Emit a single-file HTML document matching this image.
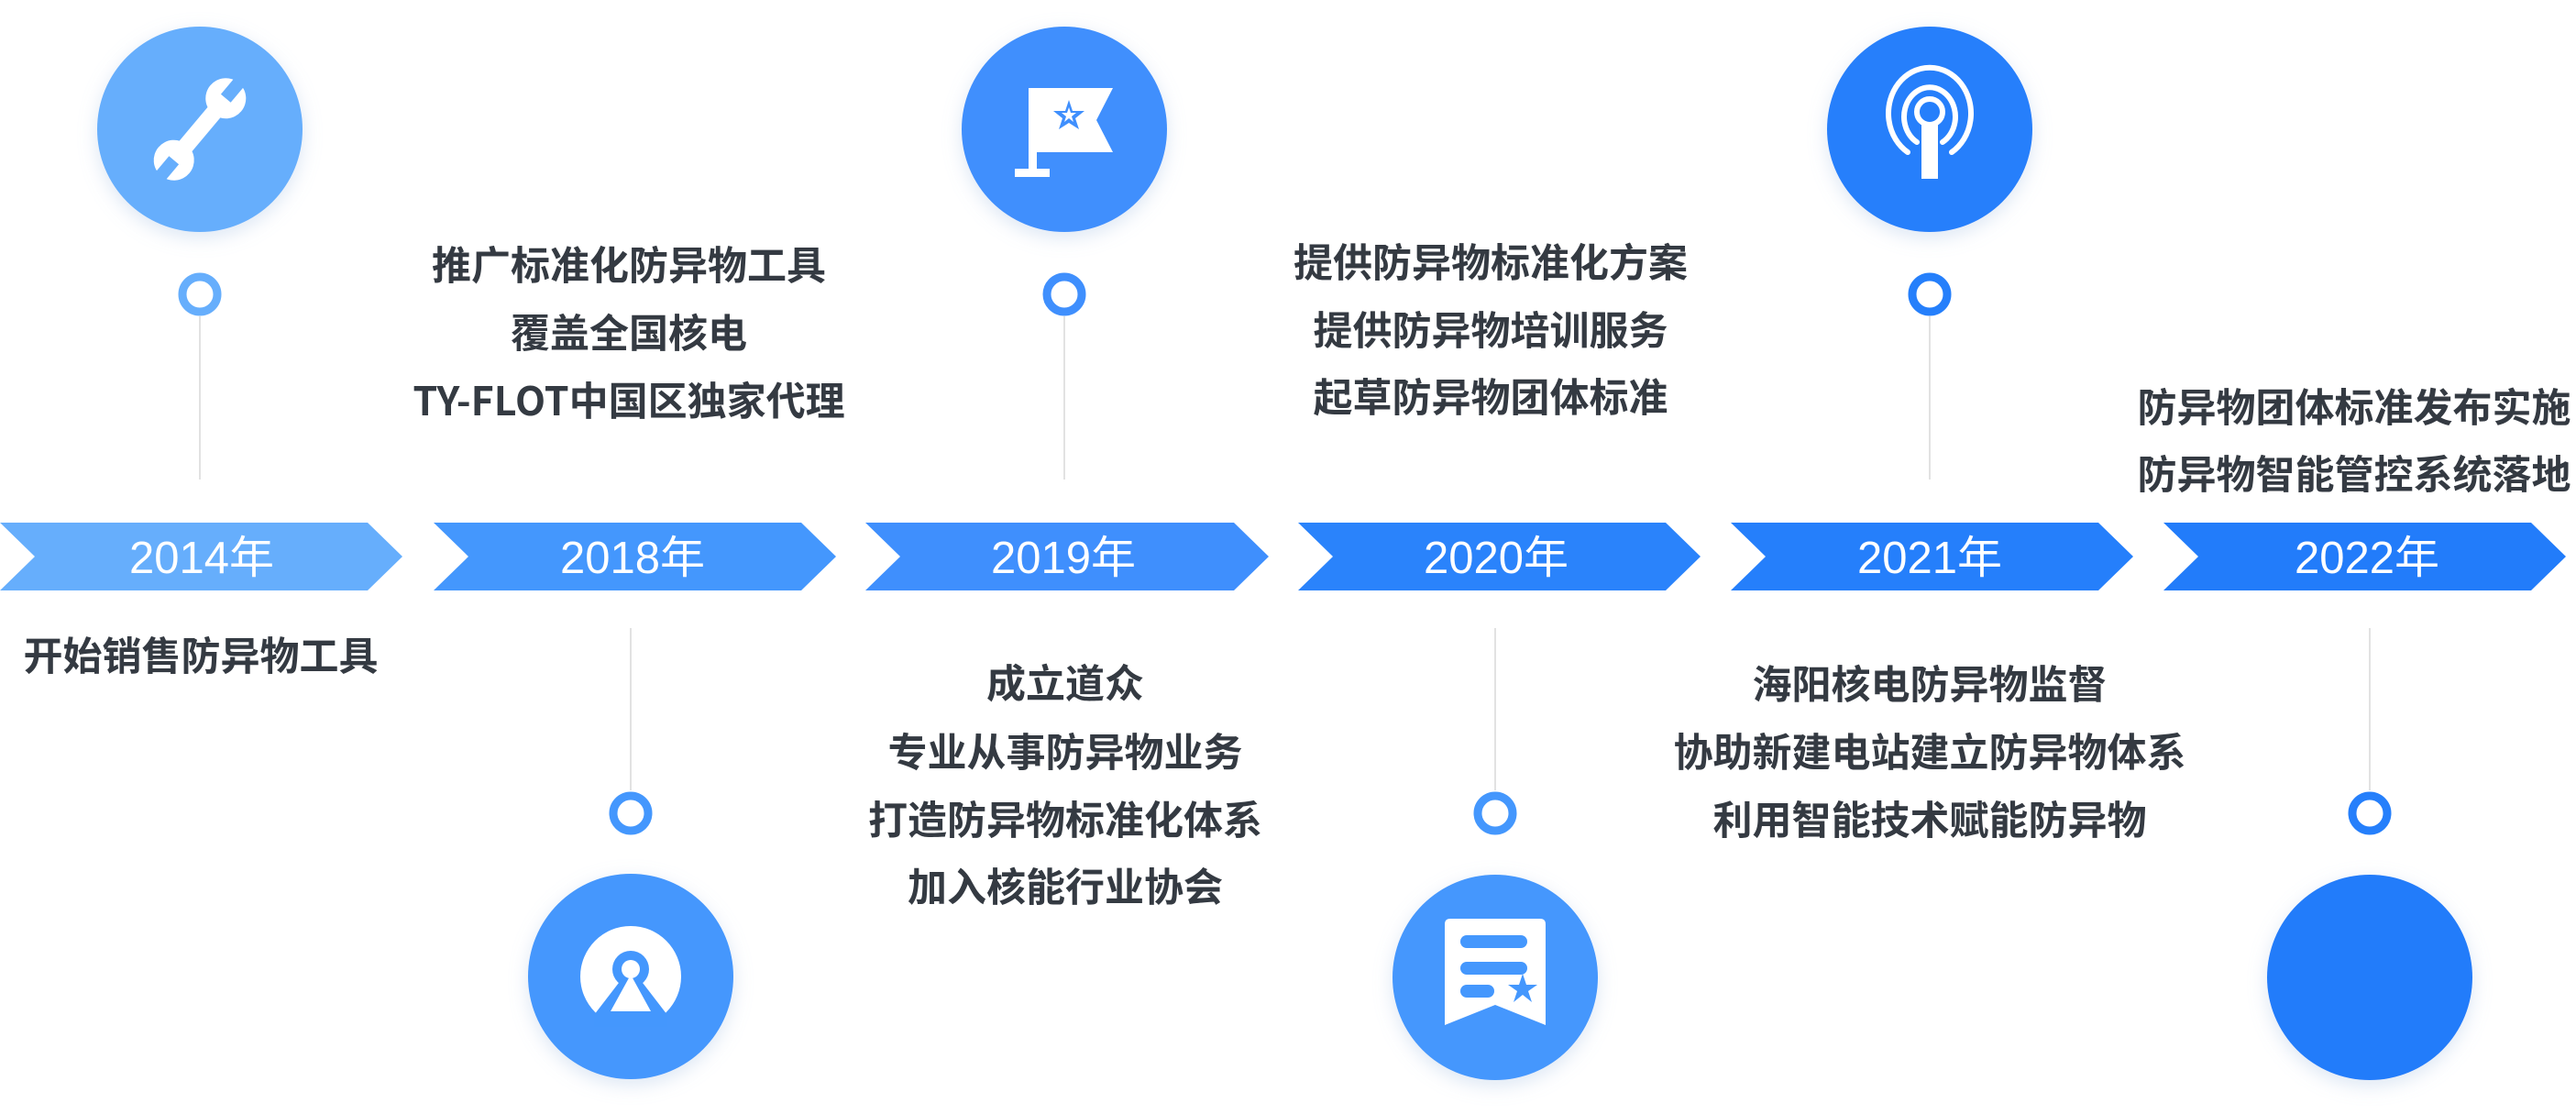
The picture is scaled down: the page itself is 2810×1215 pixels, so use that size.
<!DOCTYPE html>
<html><head><meta charset="utf-8"><style>
html,body{margin:0;padding:0;background:#fff;}
svg text{font-family:"Liberation Sans","Noto Sans CJK SC",sans-serif;}
.t{font-family:"Noto Sans CJK SC","Liberation Sans",sans-serif !important;font-size:43px;font-weight:700;fill:#343a42;text-anchor:middle;dominant-baseline:central;}
.y{font-family:"Liberation Sans","Noto Sans CJK SC",sans-serif;font-size:49px;fill:#fff;text-anchor:middle;dominant-baseline:central;}
</style></head><body>
<svg width="2810" height="1210" viewBox="0 0 2810 1210" xmlns="http://www.w3.org/2000/svg">
<defs>
<filter id="sh" x="-30%" y="-30%" width="160%" height="160%"><feDropShadow dx="0" dy="6" stdDeviation="10" flood-color="#9ab8e0" flood-opacity="0.35"/></filter>
</defs>
<polygon points="0,570 401,570 439,607 401,644 0,644 38,607" fill="#66aefc"/>
<polygon points="473,570 874,570 912,607 874,644 473,644 511,607" fill="#4497fd"/>
<polygon points="944,570 1346,570 1384,607 1346,644 944,644 982,607" fill="#3f8ffd"/>
<polygon points="1416,570 1817,570 1855,607 1817,644 1416,644 1454,607" fill="#2a83fb"/>
<polygon points="1888,570 2289,570 2327,607 2289,644 1888,644 1926,607" fill="#257ffb"/>
<polygon points="2360,570 2761,570 2799,607 2761,644 2360,644 2398,607" fill="#227cfa"/>
<text class="y" x="220" y="609">2014年</text>
<text class="y" x="690" y="609">2018年</text>
<text class="y" x="1160" y="609">2019年</text>
<text class="y" x="1632" y="609">2020年</text>
<text class="y" x="2105" y="609">2021年</text>
<text class="y" x="2582" y="609">2022年</text>
<g stroke="#e2e2e2" stroke-width="2">
<line x1="218" y1="345" x2="218" y2="523"/>
<line x1="1161" y1="345" x2="1161" y2="523"/>
<line x1="2105" y1="345" x2="2105" y2="523"/>
<line x1="688" y1="685" x2="688" y2="862"/>
<line x1="1631" y1="685" x2="1631" y2="862"/>
<line x1="2585" y1="685" x2="2585" y2="862"/>
</g>
<g fill="#fff" stroke-width="9">
<circle cx="218" cy="321" r="19" stroke="#66aefc"/>
<circle cx="1161" cy="321" r="19" stroke="#3f8ffd"/>
<circle cx="2105" cy="321" r="19" stroke="#257ffb"/>
<circle cx="688" cy="887" r="19" stroke="#4497fd"/>
<circle cx="1631" cy="887" r="19" stroke="#4497fd"/>
<circle cx="2585" cy="887" r="19" stroke="#257ffb"/>
</g>
<g filter="url(#sh)">
<circle cx="218" cy="141" r="112" fill="#66aefc"/>
<circle cx="1161" cy="141" r="112" fill="#3f8ffd"/>
<circle cx="2105" cy="141" r="112" fill="#257ffb"/>
<circle cx="688" cy="1065" r="112" fill="#4497fd"/>
<circle cx="1631" cy="1066" r="112" fill="#4497fd"/>
<circle cx="2585" cy="1066" r="112" fill="#227cfa"/>
</g>
<!-- wrench -->
<g transform="translate(218,141) rotate(40)">
<rect x="-9" y="-40" width="18" height="80" fill="#fff"/>
<circle cx="0" cy="-44" r="22" fill="#fff"/>
<circle cx="0" cy="44" r="22" fill="#fff"/>
<rect x="-7" y="-70" width="14" height="26" fill="#66aefc"/>
<rect x="-7" y="44" width="14" height="26" fill="#66aefc"/>
</g>
<!-- 2018 icon -->
<g transform="translate(688,1065)">
<circle r="55" fill="#fff"/>
<path d="M-40,42 L40,42 L0,-10 Z" fill="#4497fd"/>
<circle cy="-8" r="20" fill="#4497fd"/>
<circle cy="-8" r="10" fill="#fff"/>
<path d="M-22,38 L0,-2 L22,38 Z" fill="#fff"/>
<path d="M-40,55 L40,55 L40,42 L-40,42Z" fill="#4497fd"/>
</g>
<!-- flag -->
<g transform="translate(1161,141)" fill="#fff">
<path d="M-39,-45 L53,-45 L35,-10 L53,25 L-39,25 Z"/>
<rect x="-39" y="-45" width="9" height="95"/>
<rect x="-54" y="43" width="38" height="9"/>
<polygon points="5,-32 9,-20 22,-20 12,-12 16,0 5,-7 -6,0 -2,-12 -12,-20 1,-20" fill="#3f8ffd"/>
<polygon points="5,-24 7,-18 13,-18 8,-14 10,-8 5,-12 0,-8 2,-14 -3,-18 3,-18" fill="#fff"/>
</g>
<!-- 2020 doc -->
<g transform="translate(1631,1066)">
<path d="M-55,-58 Q-55,-64 -49,-64 L49,-64 Q55,-64 55,-58 L55,52 L0,30 L-55,52 Z" fill="#fff"/>
<rect x="-38" y="-46" width="73" height="14" rx="7" fill="#4497fd"/>
<rect x="-38" y="-17" width="73" height="14" rx="7" fill="#4497fd"/>
<rect x="-38" y="8" width="37" height="14" rx="7" fill="#4497fd"/>
<polygon points="30,-4 34,8 46,8 36,15 40,27 30,19 20,27 24,15 14,8 26,8" fill="#4497fd"/>
</g>
<!-- 2021 antenna -->
<g transform="translate(2105,141)" fill="none" stroke="#fff" stroke-width="6" stroke-linecap="round">
<path d="M-24,25 A45,50 0 1 1 24,25"/>
<path d="M-14,14 A28,32 0 1 1 14,14"/>
<rect x="-9" y="-8" width="18" height="62" fill="#fff" stroke="none"/>
<circle cy="-19" r="14" fill="#257ffb" stroke="#fff" stroke-width="6"/>
</g>
<text class="t" x="686" y="287">推广标准化防异物工具</text>
<text class="t" x="686" y="361">覆盖全国核电</text>
<text class="t" x="686" y="435">TY-FLOT中国区独家代理</text>
<text class="t" x="219" y="713">开始销售防异物工具</text>
<text class="t" x="1162" y="743">成立道众</text>
<text class="t" x="1162" y="818">专业从事防异物业务</text>
<text class="t" x="1162" y="892">打造防异物标准化体系</text>
<text class="t" x="1162" y="965">加入核能行业协会</text>
<text class="t" x="1626" y="284">提供防异物标准化方案</text>
<text class="t" x="1626" y="358">提供防异物培训服务</text>
<text class="t" x="1626" y="431">起草防异物团体标准</text>
<text class="t" x="2105" y="744">海阳核电防异物监督</text>
<text class="t" x="2105" y="818">协助新建电站建立防异物体系</text>
<text class="t" x="2105" y="892">利用智能技术赋能防异物</text>
<text class="t" x="2568" y="442">防异物团体标准发布实施</text>
<text class="t" x="2568" y="515">防异物智能管控系统落地</text>
</svg>
</body></html>
